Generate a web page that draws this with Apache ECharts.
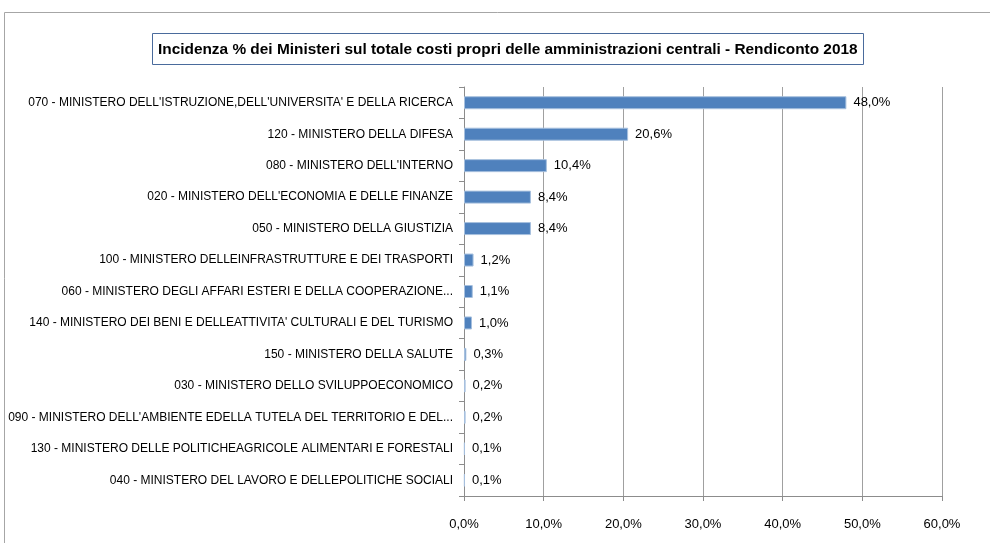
<!DOCTYPE html>
<html>
<head>
<meta charset="utf-8">
<script src="https://cdn.jsdelivr.net/npm/echarts@6/dist/echarts.min.js"></script>
<style>
  html, body { margin: 0; padding: 0; background: #fff; overflow: hidden; }
  #chart { width: 990px; height: 543px; }
</style>
</head>
<body>
<div id="chart"></div>
<script>
// dati
const ministeri = [
  "070 - MINISTERO DELL'ISTRUZIONE,DELL'UNIVERSITA' E DELLA RICERCA",
  "120 - MINISTERO DELLA DIFESA",
  "080 - MINISTERO DELL'INTERNO",
  "020 - MINISTERO DELL'ECONOMIA E DELLE FINANZE",
  "050 - MINISTERO DELLA GIUSTIZIA",
  "100 - MINISTERO DELLEINFRASTRUTTURE E DEI TRASPORTI",
  "060 - MINISTERO DEGLI AFFARI ESTERI E DELLA COOPERAZIONE...",
  "140 - MINISTERO DEI BENI E DELLEATTIVITA' CULTURALI E DEL TURISMO",
  "150 - MINISTERO DELLA SALUTE",
  "030 - MINISTERO DELLO SVILUPPOECONOMICO",
  "090 - MINISTERO DELL'AMBIENTE EDELLA TUTELA DEL TERRITORIO E DEL...",
  "130 - MINISTERO DELLE POLITICHEAGRICOLE ALIMENTARI E FORESTALI",
  "040 - MINISTERO DEL LAVORO E DELLEPOLITICHE SOCIALI"
];
const incidenza = [48.0, 20.6, 10.4, 8.4, 8.4, 1.2, 1.1, 1.0, 0.3, 0.2, 0.2, 0.1, 0.1];
const asseMin = 0;
const asseMax = 60;
const asseStep = 10;

const FONT = "'Liberation Sans', Arial, sans-serif";
const pct = v => v.toFixed(1).replace('.', ',') + '%';

const chart = echarts.init(document.getElementById('chart'));
chart.setOption({
  animation: false,
  textStyle: { fontFamily: FONT },
  graphic: [{
    type: 'rect',
    shape: { x: 4.5, y: 12.5, width: 1000, height: 600 },
    style: { fill: 'none', stroke: '#a6a6a6', lineWidth: 1 },
    silent: true
  }],
  title: {
    text: 'Incidenza % dei Ministeri sul totale costi propri delle amministrazioni centrali - Rendiconto 2018',
    left: 152,
    top: 33,
    padding: [9, 6, 8, 6],
    borderColor: '#4a6b9c',
    borderWidth: 1,
    textStyle: { fontFamily: FONT, fontSize: 15.4, fontWeight: 'bold', color: '#000' }
  },
  grid: { left: 464, right: 48, top: 87, bottom: 47, outerBoundsMode: 'none' },
  xAxis: {
    type: 'value',
    min: asseMin,
    max: asseMax,
    interval: asseStep,
    axisLine: { show: true, lineStyle: { color: '#8c8c8c' } },
    axisTick: { show: true, length: 5, lineStyle: { color: '#8c8c8c' } },
    splitLine: { show: true, lineStyle: { color: '#a0a0a0', width: 1 } },
    axisLabel: { formatter: pct, fontSize: 13, color: '#000', margin: 22, fontFamily: FONT }
  },
  yAxis: {
    type: 'category',
    inverse: true,
    data: ministeri,
    axisLine: { show: true, lineStyle: { color: '#8c8c8c' } },
    axisTick: { show: true, length: 5, lineStyle: { color: '#8c8c8c' } },
    axisLabel: { fontSize: 12, color: '#000', margin: 11, fontFamily: FONT }
  },
  series: [{
    type: 'bar',
    data: incidenza,
    barWidth: 13,
    barMinWidth: 2,
    itemStyle: { color: '#4f81bd', borderColor: '#a7c0de', borderWidth: 1 },
    label: {
      show: true,
      position: 'right',
      distance: 7,
      formatter: p => pct(p.value),
      fontSize: 13,
      color: '#000',
      fontFamily: FONT
    }
  }]
});
</script>
</body>
</html>
